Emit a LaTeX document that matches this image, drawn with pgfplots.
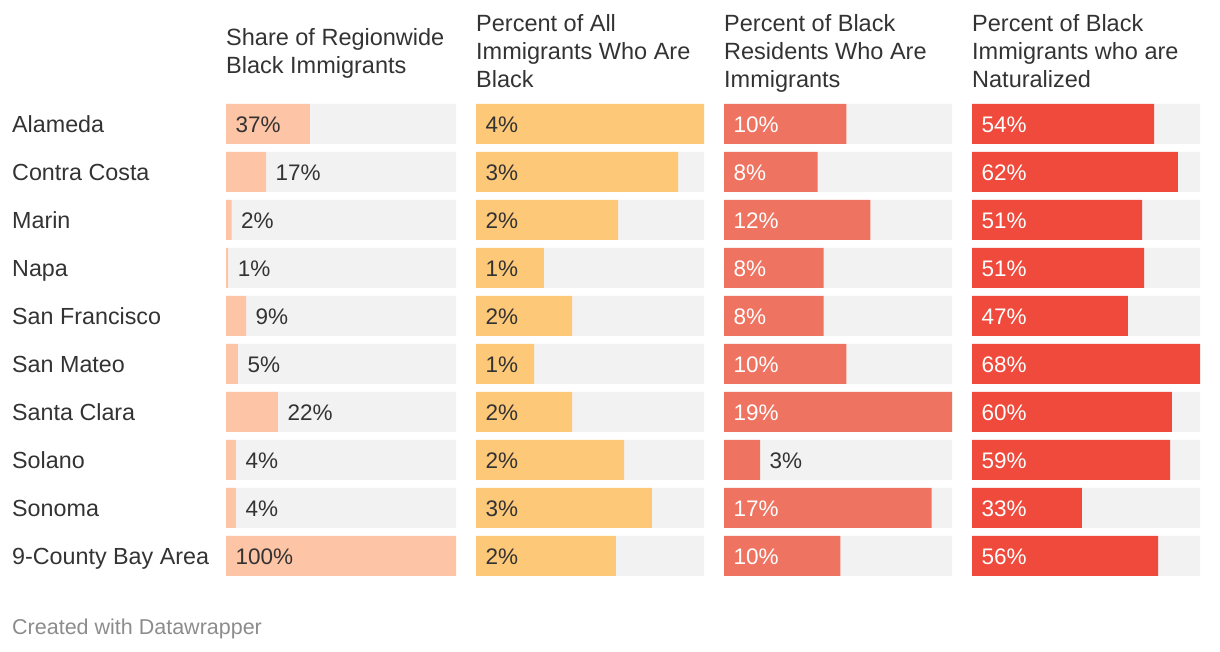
\documentclass[border=0pt]{standalone}
\usepackage{fontspec}
\setmainfont{Liberation Sans}
\usepackage{pgfplots}
\usepackage{pgfplotstable}
\pgfplotsset{compat=1.18}

\definecolor{cA}{HTML}{FEC4A6}
\definecolor{cB}{HTML}{FDC978}
\definecolor{cC}{HTML}{EF7361}
\definecolor{cD}{HTML}{EF4A3C}
\definecolor{bggray}{HTML}{F2F2F2}
\definecolor{txt}{HTML}{333333}
\definecolor{foot}{HTML}{8C8C8C}

\newcommand\rowfont{\fontsize{23.3}{28}\selectfont}
\newcommand\valfont{\fontsize{22.5}{27}\selectfont}
\newcommand\hdfont{\fontsize{23.5}{28}\selectfont}
\newcommand\ftfont{\fontsize{21.5}{26}\selectfont}

% Share of regionwide Black immigrants
\pgfplotstableread{
y full val in out lab
0 100 36.5 0 nan 37
1 100 17.4 nan 17.4 17
2 100 2.4 nan 2.4 2
3 100 0.9 nan 0.9 1
4 100 8.7 nan 8.7 9
5 100 5.2 nan 5.2 5
6 100 22.6 nan 22.6 22
7 100 4.3 nan 4.3 4
8 100 4.3 nan 4.3 4
9 100 100 0 nan 100
}\colA
% Percent of all immigrants who are Black
\pgfplotstableread{
y full val in out lab
0 3.8 3.8 0 nan 4
1 3.8 3.37 0 nan 3
2 3.8 2.37 0 nan 2
3 3.8 1.13 0 nan 1
4 3.8 1.6 0 nan 2
5 3.8 0.97 0 nan 1
6 3.8 1.6 0 nan 2
7 3.8 2.47 0 nan 2
8 3.8 2.93 0 nan 3
9 3.8 2.33 0 nan 2
}\colB
% Percent of Black residents who are immigrants
\pgfplotstableread{
y full val in out lab
0 19 10.2 0 nan 10
1 19 7.8 0 nan 8
2 19 12.2 0 nan 12
3 19 8.3 0 nan 8
4 19 8.3 0 nan 8
5 19 10.2 0 nan 10
6 19 19.0 0 nan 19
7 19 3.0 nan 3.0 3
8 19 17.3 0 nan 17
9 19 9.7 0 nan 10
}\colC
% Percent of Black immigrants who are naturalized
\pgfplotstableread{
y full val in out lab
0 68 54.3 0 nan 54
1 68 61.4 0 nan 62
2 68 50.7 0 nan 51
3 68 51.3 0 nan 51
4 68 46.5 0 nan 47
5 68 68.0 0 nan 68
6 68 59.6 0 nan 60
7 68 59.1 0 nan 59
8 68 32.8 0 nan 33
9 68 55.5 0 nan 56
}\colD

\pgfplotsset{
  barpanel/.style={
    scale only axis, height=480pt, ymin=-0.5, ymax=9.5, y dir=reverse, xmin=0,
    axis line style={draw=none}, major tick length=0pt,
    xtick=\empty, ytick=\empty, clip=false, anchor=north west,
    every axis title/.style={at={(0,1)}, anchor=west, align=left,
      inner sep=0pt, yshift=45.6pt, font=\hdfont, text=txt},
  },
  bgbar/.style={xbar, bar shift=0pt, bar width=40pt, fill=bggray, draw=none},
  valbar/.style={xbar, bar shift=0pt, bar width=40pt, fill=#1, draw=none},
  vallab/.style={draw=none, mark=none, nodes near coords={\pgfplotspointmeta\%},
    point meta=explicit symbolic,
    nodes near coords style={anchor=base west, inner sep=0pt, xshift=9.5pt,
      yshift=-8.2pt, font=\valfont, text=#1}},
}

\begin{document}
\begin{tikzpicture}
\useasboundingbox (0,0) rectangle (1220pt,652pt);

\begin{axis}[barpanel, at={(226pt,552pt)}, width=230pt, xmax=100,
  title={\strut Share of Regionwide\\\strut Black Immigrants},
  ytick={0,...,9},
  yticklabels={Alameda,Contra Costa,Marin,Napa,San Francisco,San Mateo,Santa Clara,Solano,Sonoma,9-County Bay Area},
  yticklabel style={anchor=base west, inner sep=0pt, xshift=-214pt, yshift=-8.3pt, font=\rowfont, text=txt}]
\addplot[bgbar] table[x=full, y=y] {\colA};
\addplot[valbar=cA] table[x=val, y=y] {\colA};
\addplot[vallab=txt] table[x=in, y=y, meta=lab] {\colA};
\addplot[vallab=txt] table[x=out, y=y, meta=lab] {\colA};
\end{axis}

\begin{axis}[barpanel, at={(476pt,552pt)}, width=228pt, xmax=3.8,
  title={\strut Percent of All\\\strut Immigrants Who Are\\\strut Black}]
\addplot[bgbar] table[x=full, y=y] {\colB};
\addplot[valbar=cB] table[x=val, y=y] {\colB};
\addplot[vallab=txt] table[x=in, y=y, meta=lab] {\colB};
\end{axis}

\begin{axis}[barpanel, at={(724pt,552pt)}, width=228pt, xmax=19,
  title={\strut Percent of Black\\\strut Residents Who Are\\\strut Immigrants}]
\addplot[bgbar] table[x=full, y=y] {\colC};
\addplot[valbar=cC] table[x=val, y=y] {\colC};
\addplot[vallab=white] table[x=in, y=y, meta=lab] {\colC};
\addplot[vallab=txt] table[x=out, y=y, meta=lab] {\colC};
\end{axis}

\begin{axis}[barpanel, at={(972pt,552pt)}, width=228pt, xmax=68,
  title={\strut Percent of Black\\\strut Immigrants who are\\\strut Naturalized}]
\addplot[bgbar] table[x=full, y=y] {\colD};
\addplot[valbar=cD] table[x=val, y=y] {\colD};
\addplot[vallab=white] table[x=in, y=y, meta=lab] {\colD};
\end{axis}

\node[anchor=base west, inner sep=0pt, font=\ftfont, text=foot] at (12pt,17.5pt) {Created with Datawrapper};
\end{tikzpicture}
\end{document}
